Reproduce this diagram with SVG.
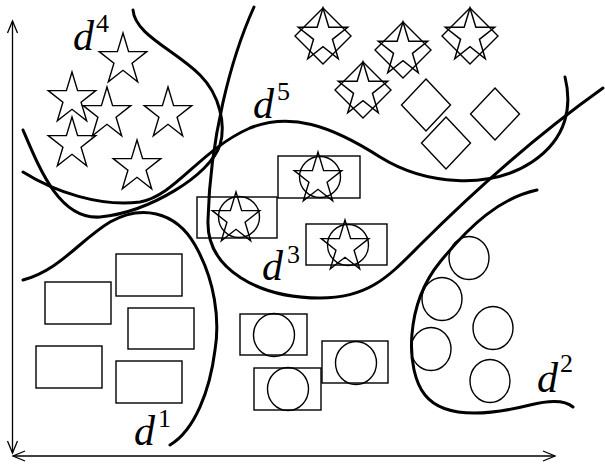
<svg xmlns="http://www.w3.org/2000/svg" xmlns:xlink="http://www.w3.org/1999/xlink" width="605" height="466" viewBox="0 0 605 466">
<style>
.thin{fill:none;stroke:#000;stroke-width:1.4}
.curve{fill:none;stroke:#000;stroke-width:3;stroke-linecap:round}
.axis{fill:none;stroke:#000;stroke-width:1.3}
.lbl{font-family:"Liberation Serif","DejaVu Serif",serif;fill:#000}
.d{font-style:italic;font-size:42px}
.sup{font-size:26px}
</style>
<defs>
<polygon id="star" class="thin" points="0,-27 5.61,-8.35 23.78,-8.35 9.08,3.19 14.69,21.85 0,10.31 -14.69,21.85 -9.08,3.19 -23.78,-8.35 -5.61,-8.35"/>
<marker id="ah" markerUnits="userSpaceOnUse" markerWidth="16" markerHeight="14" refX="13" refY="7" orient="auto-start-reverse" overflow="visible">
<path d="M1 2 L13 7 L1 12" fill="none" stroke="#000" stroke-width="1.3"/>
</marker>
</defs>
<rect width="605" height="466" fill="#fff"/>

<g id="axes">
<line class="axis" x1="12.5" y1="21" x2="12.5" y2="453" marker-start="url(#ah)" marker-end="url(#ah)"/>
<line class="axis" x1="13" y1="456" x2="555" y2="456" marker-start="url(#ah)" marker-end="url(#ah)"/>
</g>

<g id="stars">
<g id="s1"><use href="#star" x="123" y="60"/></g>
<g id="s2"><use href="#star" x="72" y="99"/></g>
<g id="s3"><use href="#star" x="107" y="114"/></g>
<g id="s4"><use href="#star" x="168" y="114"/></g>
<g id="s5"><use href="#star" x="72" y="144"/></g>
<g id="s6"><use href="#star" x="137" y="167"/></g>
</g>

<g id="star-diamonds">
<g id="sd1" transform="translate(323 36)"><polygon class="thin" points="0,-28 28,0 0,28 -28,0"/><use href="#star" transform="scale(1.04)"/></g>
<g id="sd2" transform="translate(403 50)"><polygon class="thin" points="0,-28 28,0 0,28 -28,0"/><use href="#star" transform="scale(1.04)"/></g>
<g id="sd3" transform="translate(470 36)"><polygon class="thin" points="0,-28 28,0 0,28 -28,0"/><use href="#star" transform="scale(1.04)"/></g>
<g id="sd4" transform="translate(363 90)"><polygon class="thin" points="0,-28 28,0 0,28 -28,0"/><use href="#star" transform="scale(1.04)"/></g>
</g>

<g id="diamonds">
<g id="dm1"><polygon class="thin" points="426,79 450.5,105 426,131 401.5,105"/></g>
<g id="dm2"><polygon class="thin" points="446,117 470.5,143 446,169 421.5,143"/></g>
<g id="dm3"><polygon class="thin" points="495,88 519.5,114 495,140 470.5,114"/></g>
</g>

<g id="rect-circle-stars">
<g id="rcs1"><rect class="thin" x="278" y="156" width="82" height="42"/><ellipse class="thin" cx="320" cy="177" rx="20.5" ry="20.5"/><use href="#star" x="318" y="179"/></g>
<g id="rcs2"><rect class="thin" x="197" y="197" width="80" height="41"/><ellipse class="thin" cx="239" cy="217" rx="20.5" ry="20.5"/><use href="#star" x="236" y="219"/></g>
<g id="rcs3"><rect class="thin" x="306" y="224" width="81" height="41"/><ellipse class="thin" cx="348" cy="245" rx="20.5" ry="20.5"/><use href="#star" x="345" y="247"/></g>
</g>

<g id="rect-circles">
<g id="rc1"><rect class="thin" x="240" y="314" width="67" height="41"/><ellipse class="thin" cx="274" cy="335" rx="20.5" ry="21.5"/></g>
<g id="rc2"><rect class="thin" x="322" y="341" width="66" height="42"/><ellipse class="thin" cx="356" cy="363" rx="20.5" ry="21.5"/></g>
<g id="rc3"><rect class="thin" x="254" y="368" width="67" height="42"/><ellipse class="thin" cx="288" cy="389" rx="20.5" ry="21.5"/></g>
</g>

<g id="rects">
<g id="r1"><rect class="thin" x="116" y="254" width="66" height="42"/></g>
<g id="r2"><rect class="thin" x="45" y="282" width="66" height="42"/></g>
<g id="r3"><rect class="thin" x="128" y="308" width="66" height="41"/></g>
<g id="r4"><rect class="thin" x="36" y="346" width="66" height="42"/></g>
<g id="r5"><rect class="thin" x="116" y="361" width="66" height="42"/></g>
</g>

<g id="circles">
<g id="c1"><ellipse class="thin" cx="469" cy="258" rx="20" ry="21.5"/></g>
<g id="c2"><ellipse class="thin" cx="442" cy="299" rx="20" ry="21.5"/></g>
<g id="c3"><ellipse class="thin" cx="493" cy="328" rx="20" ry="21.5"/></g>
<g id="c4"><ellipse class="thin" cx="431" cy="349" rx="20" ry="21.5"/></g>
<g id="c5"><ellipse class="thin" cx="490" cy="381" rx="20" ry="21.5"/></g>
</g>

<g id="connectors">
<path id="curve-d4" class="curve" d="M133 10 C135 35 175 50 200 75 C220 95 226 125 220 145 C210 175 150 212 100 217 C60 220 40 170 23 130"/>
<path id="curve-d5" class="curve" d="M23 172 C55 192 100 207 140 202 C175 196 200 150 250 128 C290 112 330 125 380 157 C425 185 490 190 532 162 C568 138 572 105 565 77"/>
<path id="curve-d3" class="curve" d="M254 7 C230 60 210 140 208 220 C206 270 260 298 320 298 C370 298 390 275 420 245 C465 200 530 140 603 88"/>
<path id="curve-d1" class="curve" d="M23 280 C60 270 80 240 110 222 C140 205 175 210 195 245 C215 280 220 320 215 350 C210 390 195 430 170 445"/>
<path id="curve-d2" class="curve" d="M537 190 C500 198 470 225 440 262 C405 305 405 370 425 395 C445 420 490 415 530 405 C550 400 565 400 573 407"/>
</g>

<g id="labels">
<text class="lbl"><tspan class="d" x="73" y="50">d</tspan><tspan class="sup" x="96" y="32">4</tspan></text>
<text class="lbl"><tspan class="d" x="253" y="118">d</tspan><tspan class="sup" x="277" y="100">5</tspan></text>
<text class="lbl"><tspan class="d" x="262" y="280">d</tspan><tspan class="sup" x="287" y="263">3</tspan></text>
<text class="lbl"><tspan class="d" x="134" y="445">d</tspan><tspan class="sup" x="158" y="427">1</tspan></text>
<text class="lbl"><tspan class="d" x="537" y="392">d</tspan><tspan class="sup" x="560" y="372">2</tspan></text>
</g>
</svg>
